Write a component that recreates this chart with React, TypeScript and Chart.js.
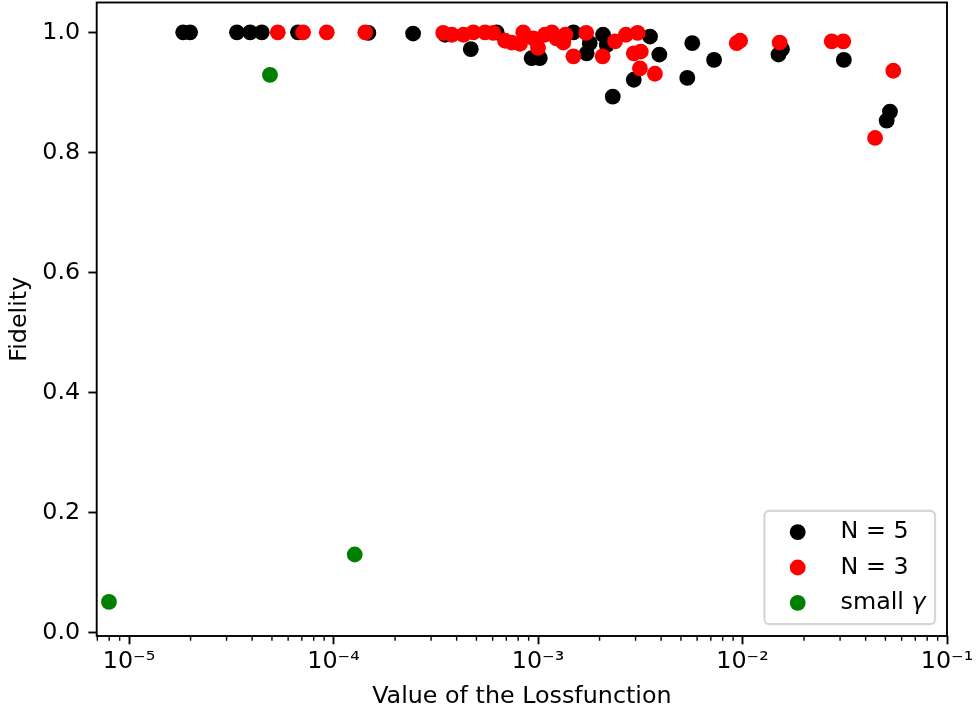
import React, { useEffect, useRef } from "react";
import { Chart, registerables } from "chart.js";

Chart.register(...registerables);

// ---- data ----
const n5Loss = [
  1.84e-5, 1.99e-5, 3.37e-5, 3.91e-5, 4.46e-5, 6.7e-5, 1.48e-4, 2.45e-4,
  3.51e-4, 4.69e-4, 6.28e-4, 9.31e-4, 1.02e-3, 1.49e-3, 1.73e-3, 1.79e-3,
  2.08e-3, 2.17e-3, 2.32e-3, 2.94e-3, 3.53e-3, 3.92e-3, 5.37e-3, 5.68e-3,
  7.26e-3, 1.5e-2, 1.56e-2, 3.13e-2, 5.07e-2, 5.26e-2,
];
const n5Fidelity = [
  1.0, 1.0, 1.0, 1.0, 1.0, 1.0, 0.999, 0.998,
  0.996, 0.972, 1.0, 0.957, 0.957, 1.0, 0.965, 0.982,
  0.996, 0.979, 0.893, 0.921, 0.993, 0.963, 0.924, 0.982,
  0.954, 0.963, 0.972, 0.954, 0.853, 0.868,
];

const n3Loss = [
  5.34e-5, 7.1e-5, 9.27e-5, 1.43e-4, 3.44e-4, 3.79e-4, 4.32e-4, 4.83e-4,
  5.51e-4, 6.04e-4, 6.9e-4, 7.43e-4, 8.17e-4, 8.47e-4, 9.48e-4, 1.0e-3,
  1.08e-3, 1.17e-3, 1.23e-3, 1.33e-3, 1.36e-3, 1.49e-3, 1.72e-3, 2.07e-3,
  2.38e-3, 2.69e-3, 2.94e-3, 3.07e-3, 3.15e-3, 3.18e-3, 3.73e-3, 9.37e-3,
  9.73e-3, 1.52e-2, 2.73e-2, 3.11e-2, 4.45e-2, 5.46e-2,
];
const n3Fidelity = [
  1.0, 1.0, 1.0, 1.0, 0.999, 0.996, 0.996, 1.0,
  1.0, 0.999, 0.986, 0.983, 0.981, 1.0, 0.99, 0.974,
  0.996, 1.0, 0.99, 0.983, 0.996, 0.96, 0.999, 0.96,
  0.985, 0.996, 0.965, 0.999, 0.94, 0.968, 0.931, 0.982,
  0.986, 0.983, 0.985, 0.985, 0.824, 0.936,
];

const smallGammaLoss = [7.98e-6, 4.89e-5, 1.27e-4];
const smallGammaFidelity = [0.051, 0.929, 0.13];

const seriesLabels = ["N = 5", "N = 3", "small γ"];
const seriesColors = ["#000000", "#ff0000", "#008000"];

const xMajorTicks = [1e-5, 1e-4, 1e-3, 1e-2, 1e-1];
const xTickLabels = ["10⁻⁵", "10⁻⁴", "10⁻³", "10⁻²", "10⁻¹"];
const yTicks = [0, 0.2, 0.4, 0.6, 0.8, 1.0];
const yTickLabels = ["0.0", "0.2", "0.4", "0.6", "0.8", "1.0"];

const X_MIN = 6.95e-6;
const X_MAX = 0.1;
const Y_MIN = -0.0058;
const Y_MAX = 1.0497;

const FONT = "DejaVu Sans";
const FS = 23.8;
const MARKER_R = 7.9;

function toPoints(xs: number[], ys: number[]) {
  return xs.map((x, i) => ({ x, y: ys[i] }));
}

function minorTicks(): number[] {
  const out: number[] = [];
  for (let e = -6; e <= -2; e++) {
    for (let m = 2; m <= 9; m++) {
      const v = m * Math.pow(10, e);
      if (v > X_MIN && v < X_MAX) out.push(v);
    }
  }
  return out;
}

const framePlugin = {
  id: "frameAndExtras",
  afterDatasetsDraw(chart: any) {
    const { ctx, chartArea } = chart;
    const xs = chart.scales.x;
    ctx.save();
    ctx.strokeStyle = "#000";
    ctx.lineWidth = 1.4;
    for (const v of minorTicks()) {
      const px = xs.getPixelForValue(v);
      ctx.beginPath();
      ctx.moveTo(px, chartArea.bottom);
      ctx.lineTo(px, chartArea.bottom + 4.75);
      ctx.stroke();
    }
    ctx.lineWidth = 1.9;
    ctx.strokeStyle = "#000";
    ctx.strokeRect(
      chartArea.left,
      chartArea.top,
      chartArea.right - chartArea.left,
      chartArea.bottom - chartArea.top
    );
    ctx.restore();
  },
  afterDraw(chart: any) {
    const { ctx, chartArea } = chart;
    ctx.save();
    const normalFont = `${FS}px "${FONT}"`;
    const italicFont = `italic ${FS}px "${FONT}"`;
    ctx.font = normalFont;
    const widths = seriesLabels.map((l) => ctx.measureText(l).width);
    const maxW = Math.max(...widths);
    const pad = 0.4 * FS;
    const handleLen = 2.0 * FS;
    const handlePad = 0.8 * FS;
    const rowH = 0.985 * FS;
    const spacing = 0.5 * FS;
    const bw = pad + handleLen + handlePad + maxW + pad;
    const bh = 2 * pad + seriesLabels.length * rowH + (seriesLabels.length - 1) * spacing;
    const gap = 0.5 * FS;
    const bx = chartArea.right - gap - bw;
    const by = chartArea.bottom - gap - bh;
    ctx.beginPath();
    (ctx as any).roundRect(bx, by, bw, bh, 0.2 * FS);
    ctx.fillStyle = "rgba(255,255,255,0.8)";
    ctx.fill();
    ctx.lineWidth = 2.2;
    ctx.strokeStyle = "rgba(204,204,204,0.8)";
    ctx.stroke();
    seriesLabels.forEach((label, i) => {
      const cy = by + pad + rowH / 2 + i * (rowH + spacing);
      const mx = bx + pad + handleLen / 2;
      ctx.beginPath();
      ctx.arc(mx, cy, MARKER_R, 0, Math.PI * 2);
      ctx.fillStyle = seriesColors[i];
      ctx.fill();
      ctx.fillStyle = "#000";
      ctx.textBaseline = "middle";
      ctx.textAlign = "left";
      const tx = bx + pad + handleLen + handlePad;
      if (label.endsWith("γ")) {
        const head = label.slice(0, -1);
        ctx.font = normalFont;
        ctx.fillText(head, tx, cy);
        const hw = ctx.measureText(head).width;
        ctx.font = italicFont;
        ctx.fillText("γ", tx + hw, cy);
      } else {
        ctx.font = normalFont;
        ctx.fillText(label, tx, cy);
      }
    });
    ctx.restore();
  },
};

function isDecade(v: number) {
  const l = Math.log10(v);
  return Math.abs(l - Math.round(l)) < 1e-9;
}

export default function App() {
  const canvasRef = useRef<HTMLCanvasElement>(null);

  useEffect(() => {
    const canvas = canvasRef.current;
    if (!canvas) return;
    const chart = new Chart(canvas, {
      type: "scatter",
      data: {
        datasets: [
          {
            label: seriesLabels[0],
            data: toPoints(n5Loss, n5Fidelity),
            backgroundColor: seriesColors[0],
            borderWidth: 0,
            pointRadius: MARKER_R,
            pointHoverRadius: MARKER_R,
            order: 3,
          },
          {
            label: seriesLabels[1],
            data: toPoints(n3Loss, n3Fidelity),
            backgroundColor: seriesColors[1],
            borderWidth: 0,
            pointRadius: MARKER_R,
            pointHoverRadius: MARKER_R,
            order: 2,
          },
          {
            label: seriesLabels[2],
            data: toPoints(smallGammaLoss, smallGammaFidelity),
            backgroundColor: seriesColors[2],
            borderWidth: 0,
            pointRadius: MARKER_R,
            pointHoverRadius: MARKER_R,
            order: 1,
          },
        ],
      },
      options: {
        animation: false,
        responsive: false,
        devicePixelRatio: 1,
        layout: { autoPadding: false, padding: { left: 0, top: 2.5, right: 31, bottom: 0 } },
        plugins: {
          legend: { display: false },
          tooltip: { enabled: false },
        },
        scales: {
          x: {
            type: "logarithmic",
            min: X_MIN,
            max: X_MAX,
            afterBuildTicks: (axis: any) => {
              axis.ticks = xMajorTicks.map((v) => ({ value: v, major: false }));
            },
            afterFit: (axis: any) => {
              axis.height = 78;
              axis.paddingLeft = 0;
              axis.paddingRight = 0;
              axis.paddingTop = 0;
              axis.paddingBottom = 0;
            },
            border: { display: false },
            grid: {
              drawOnChartArea: false,
              drawTicks: true,
              tickLength: 8.3,
              tickWidth: 1.9,
              tickColor: "#000",
            },
            ticks: {
              autoSkip: false,
              maxRotation: 0,
              minRotation: 0,
              padding: 3,
              color: "#000",
              font: { family: FONT, size: FS },
              callback: (value: any) => {
                const v = Number(value);
                if (!isDecade(v)) return "";
                const idx = xMajorTicks.findIndex((t) => Math.abs(Math.log10(t) - Math.log10(v)) < 1e-9);
                return idx >= 0 ? xTickLabels[idx] : "";
              },
            },
            title: {
              display: true,
              text: "Value of the Lossfunction",
              color: "#000",
              font: { family: FONT, size: FS },
              padding: { top: 0, bottom: 3 },
            },
          },
          y: {
            type: "linear",
            min: Y_MIN,
            max: Y_MAX,
            afterBuildTicks: (axis: any) => {
              axis.ticks = yTicks.map((v) => ({ value: v }));
            },
            afterFit: (axis: any) => {
              axis.width = 96.7;
              axis.paddingLeft = 0;
              axis.paddingRight = 0;
              axis.paddingTop = 0;
              axis.paddingBottom = 0;
            },
            border: { display: false },
            grid: {
              drawOnChartArea: false,
              drawTicks: true,
              tickLength: 8.3,
              tickWidth: 1.9,
              tickColor: "#000",
            },
            ticks: {
              padding: 8.3,
              color: "#000",
              font: { family: FONT, size: FS },
              callback: (value: any) => {
                const idx = yTicks.findIndex((t) => Math.abs(t - Number(value)) < 1e-9);
                return idx >= 0 ? yTickLabels[idx] : "";
              },
            },
            title: {
              display: true,
              text: "Fidelity",
              color: "#000",
              font: { family: FONT, size: FS },
              padding: { top: 5.7, bottom: 0 },
            },
          },
        },
      },
      plugins: [framePlugin],
    });
    return () => chart.destroy();
  }, []);

  return (
    <div
      style={{
        position: "fixed",
        left: 0,
        top: 0,
        width: 978,
        height: 714,
        background: "#ffffff",
      }}
    >
      <canvas
        ref={canvasRef}
        width={978}
        height={714}
        style={{ display: "block", width: 978, height: 714 }}
      />
    </div>
  );
}
